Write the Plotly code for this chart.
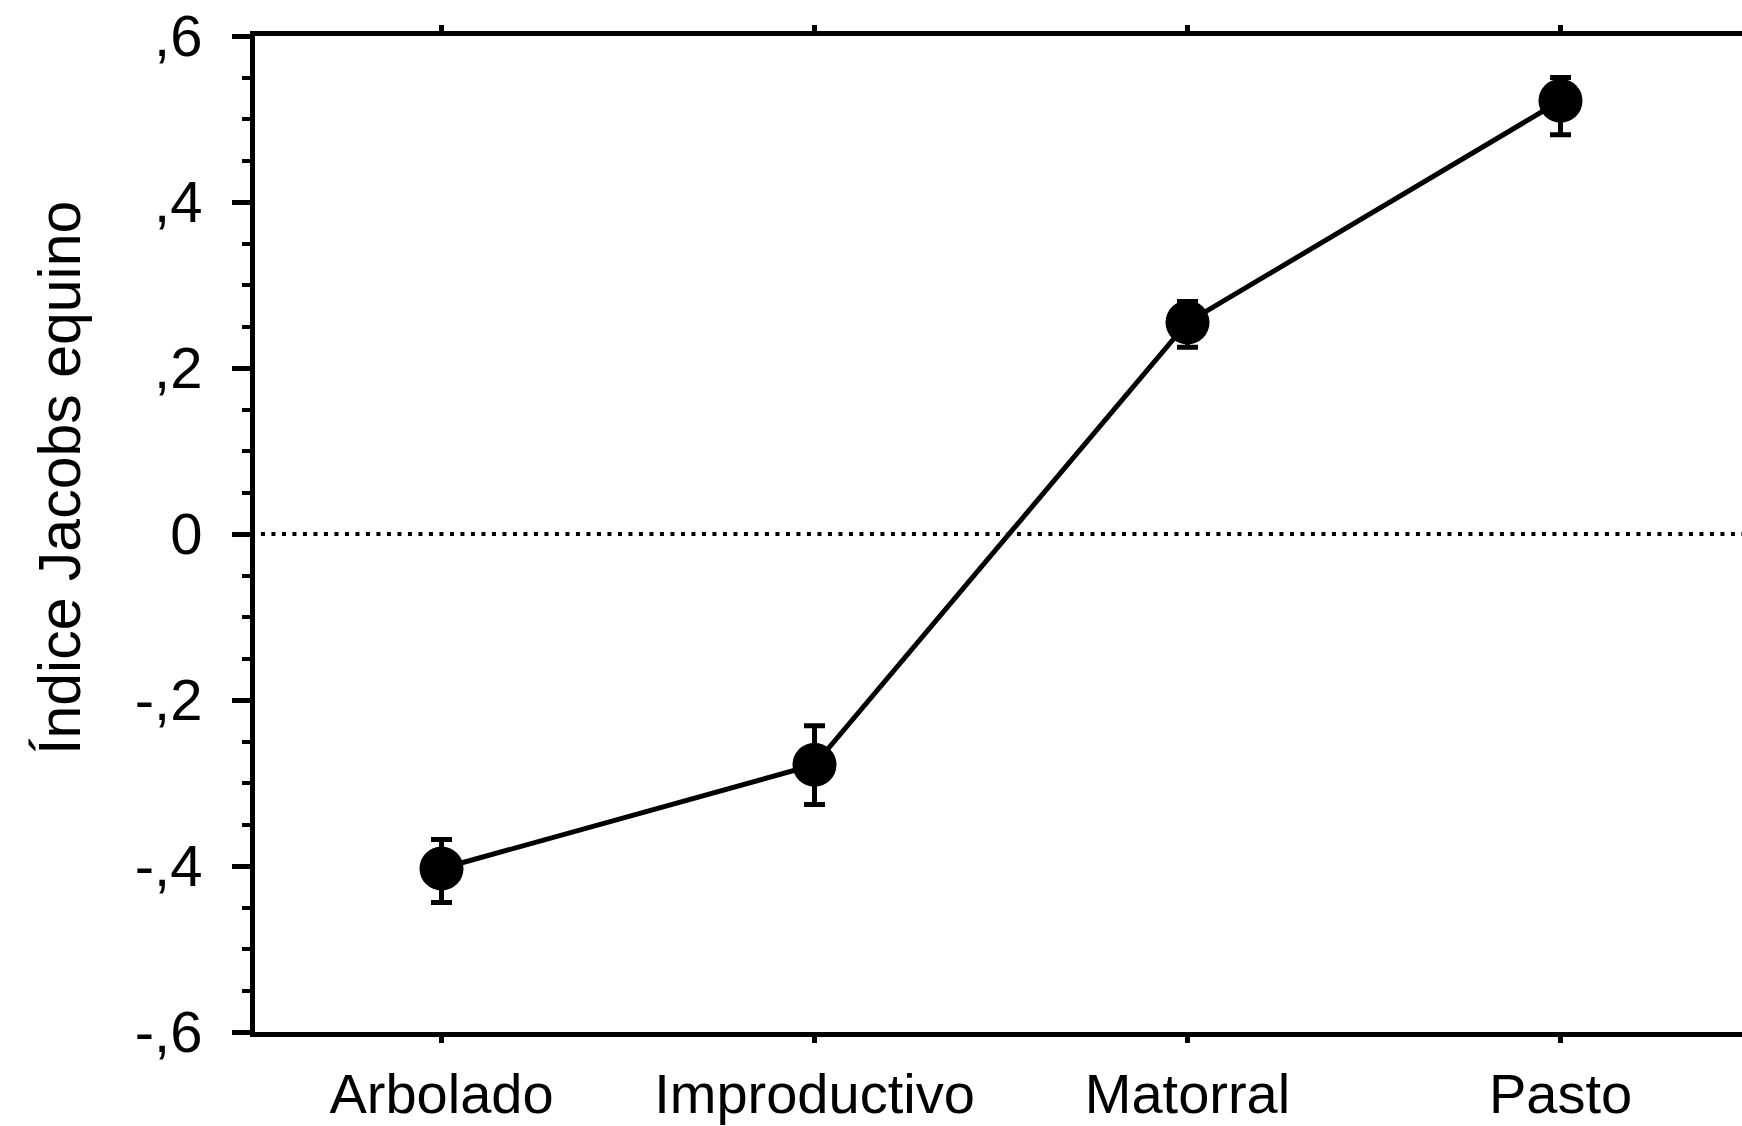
import plotly.graph_objects as go

# Jacobs selection index for horses by land-cover type (mean ± error)
categories = ["Arbolado", "Improductivo", "Matorral", "Pasto"]
jacobs_mean = [-0.403, -0.278, 0.255, 0.522]
err_plus = [0.035, 0.047, 0.025, 0.028]
err_minus = [0.041, 0.048, 0.030, 0.041]

y_tickvals = [-0.6, -0.4, -0.2, 0.0, 0.2, 0.4, 0.6]
y_ticktext = ["-,6", "-,4", "-,2", "0", ",2", ",4", ",6"]

FONT = "Liberation Sans, Arial, sans-serif"
W, H = 1742, 1126
ML, MR, MT, MB = 255, 0, 36, 94

fig = go.Figure()

fig.add_trace(go.Scatter(
    x=list(range(len(categories))),
    y=jacobs_mean,
    mode="lines+markers",
    line=dict(color="black", width=5),
    marker=dict(color="black", size=44, symbol="circle"),
    error_y=dict(
        type="data",
        symmetric=False,
        array=err_plus,
        arrayminus=err_minus,
        color="black",
        thickness=5,
        width=10.5,
    ),
    showlegend=False,
    cliponaxis=False,
))

# Dotted reference line at zero
fig.add_shape(
    type="line", xref="paper", yref="y",
    x0=0.004, x1=1, y0=0, y1=0,
    line=dict(color="black", width=4, dash="4px,6.5px"),
    layer="below",
)

plot_w = W - ML - MR
px_per_cat = 373
x_lo = -0.5
x_hi = x_lo + plot_w / px_per_cat

fig.update_xaxes(
    range=[x_lo, x_hi],
    tickvals=list(range(len(categories))),
    ticktext=categories,
    showgrid=False, zeroline=False,
    showline=True, linecolor="black", linewidth=5,
    mirror="ticks",
    ticks="outside", ticklen=6, tickwidth=5, tickcolor="black",
    tickfont=dict(family=FONT, size=56, color="black"),
    ticklabelstandoff=3,
    automargin=False,
)

fig.update_yaxes(
    range=[-0.6, 0.6],
    tickvals=y_tickvals,
    ticktext=y_ticktext,
    showgrid=False, zeroline=False,
    showline=True, linecolor="black", linewidth=5,
    ticks="outside", ticklen=18, tickwidth=5, tickcolor="black",
    minor=dict(ticks="outside", ticklen=8, tickwidth=4, tickcolor="black",
               dtick=0.05, tick0=0, showgrid=False),
    tickfont=dict(family=FONT, size=58, color="black"),
    ticklabelstandoff=18,
    automargin=False,
)

plot_h = H - MT - MB
fig.add_annotation(
    text="Índice Jacobs equino",
    textangle=-90,
    xref="paper", yref="paper",
    x=(60 - ML) / plot_w, y=(H - MB - 478) / plot_h,
    xanchor="center", yanchor="middle",
    showarrow=False,
    font=dict(family=FONT, size=59, color="black"),
)

fig.update_layout(
    width=W, height=H,
    margin=dict(l=ML, r=MR, t=MT, b=MB, pad=0, autoexpand=False),
    paper_bgcolor="white", plot_bgcolor="white",
)

fig.write_html("out.html")
